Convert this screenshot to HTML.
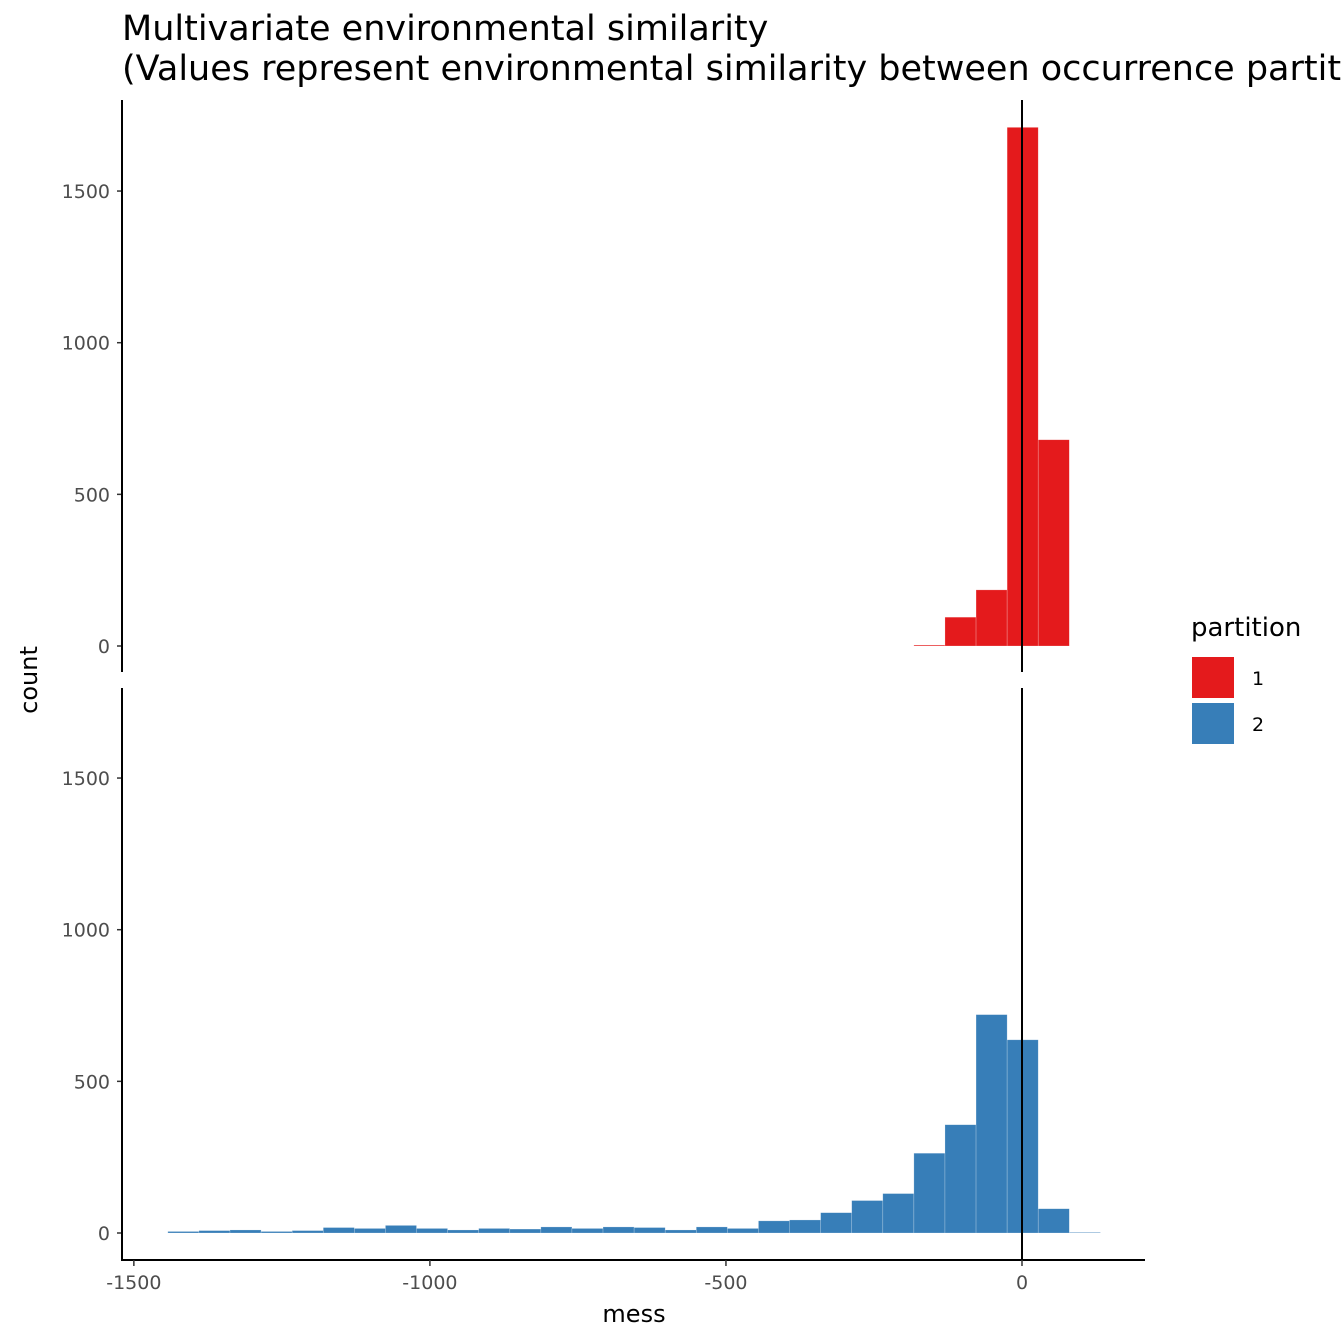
<!DOCTYPE html>
<html><head><meta charset="utf-8"><style>
body{margin:0;background:#fff;overflow:hidden;}
svg{display:block;font-family:"DejaVu Sans","Liberation Sans",sans-serif;}
</style></head><body>
<svg id="chart" width="1344" height="1344" viewBox="0 0 1344 1344">
<text x="122" y="40" font-size="35" fill="#000">Multivariate environmental similarity</text>
<text x="122" y="80" font-size="35" fill="#000">(Values represent environmental similarity between occurrence partitions)</text>
<text transform="translate(37,680) rotate(-90)" text-anchor="middle" font-size="24" fill="#000">count</text>
<text x="634" y="1322" text-anchor="middle" font-size="24" fill="#000">mess</text>
<g id="panels"></g>
<g>
<text x="1191" y="636" font-size="26" fill="#000">partition</text>
<rect x="1192" y="657" width="42" height="41" fill="#E41A1C"/>
<text x="1252" y="685" font-size="19" fill="#000">1</text>
<rect x="1192" y="703" width="42" height="41" fill="#377EB8"/>
<text x="1252" y="731" font-size="19" fill="#000">2</text>
</g>
</svg>
<script>
const binStart = -1442.6;
const binWidth = 52.5;
const partitions = ["1", "2"];
const counts1 = [0,0,0,0,0,0,0,0,0,0,0,0,0,0,0,0,0,0,0,0,0,0,0,0,3,95,185,1710,680,0];
const counts2 = [5,8,10,5,8,18,15,25,15,10,15,13,20,15,20,18,10,20,15,40,43,67,107,130,263,357,720,637,80,2];
const yTicks = [0, 500, 1000, 1500];
const xTicks = [-1500, -1000, -500, 0];
const refLine = 0;

const NS = "http://www.w3.org/2000/svg";
const xScale = v => 1022 + 0.5921 * v;
const panelDefs = [
  {top:100, bottom:672, zero:646, data:counts1, color:"#E41A1C"},
  {top:688, bottom:1260, zero:1233, data:counts2, color:"#377EB8"}
];
const yPer = 0.3033;
const g = document.getElementById("panels");
function mk(tag, attrs){const e=document.createElementNS(NS,tag);for(const k in attrs)e.setAttribute(k,attrs[k]);return e;}

panelDefs.forEach((p, pi) => {
  const pg = mk("g", {});
  
  
  g.appendChild(pg);
  const yS = c => p.zero - c * yPer;
  p.data.forEach((c, i) => {
    if (c <= 0) return;
    const x0 = xScale(binStart + i * binWidth), x1 = xScale(binStart + (i + 1) * binWidth);
    const r = mk("rect", {x:x0, y:yS(c), width:x1 - x0, height:p.zero - yS(c), fill:p.color, stroke:"#ffffff", "stroke-opacity":"0.35", "stroke-width":"0.6"});
    
    
    pg.appendChild(r);
  });
  yTicks.forEach(t => {
    const y = yS(t);
    const tl = mk("line", {x1:117, x2:122, y1:y, y2:y, stroke:"#333", "stroke-width":"1.5"});
    
    
    pg.appendChild(tl);
    const tx = mk("text", {x:110, y:y + 7, "text-anchor":"end", "font-size":"19", fill:"#4D4D4D"});
    tx.textContent = t;
    
    
    pg.appendChild(tx);
  });
  const ax = mk("line", {x1:122, x2:122, y1:p.top, y2:p.bottom, stroke:"#000", "stroke-width":"2"});
  
  
  pg.appendChild(ax);
  const vl = mk("line", {x1:xScale(refLine), x2:xScale(refLine), y1:p.top, y2:p.bottom, stroke:"#000", "stroke-width":"2"});
  
  
  pg.appendChild(vl);
});

const xa = mk("line", {x1:121, x2:1145, y1:1260, y2:1260, stroke:"#000", "stroke-width":"2"});


g.appendChild(xa);
xTicks.forEach(t => {
  const x = xScale(t);
  const tl = mk("line", {x1:x, x2:x, y1:1260, y2:1266, stroke:"#333", "stroke-width":"1.5"});
  
  
  g.appendChild(tl);
  const tx = mk("text", {x:x, y:1289, "text-anchor":"middle", "font-size":"19", fill:"#4D4D4D"});
  tx.textContent = t;
  
  
  g.appendChild(tx);
});
</script>
</body></html>
